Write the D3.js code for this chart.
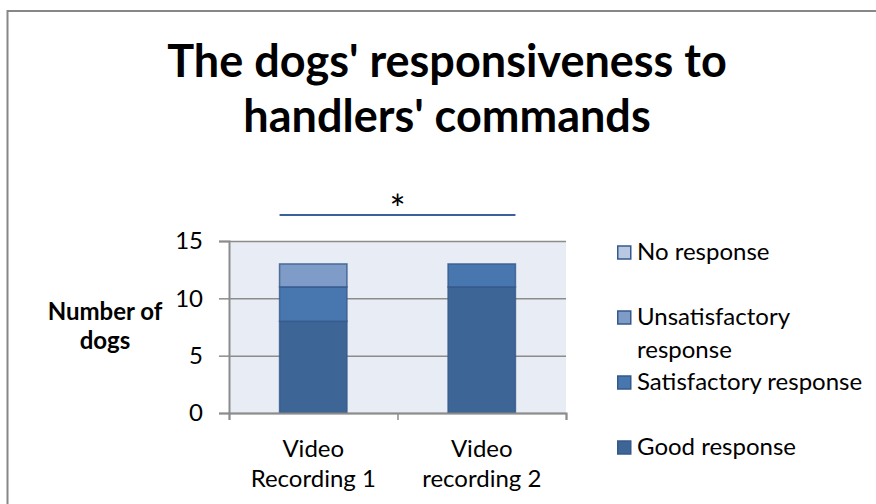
<!DOCTYPE html>
<html>
<head>
<meta charset="utf-8">
<script src="https://cdn.jsdelivr.net/npm/d3@7"></script>
<style>
  html, body { margin: 0; padding: 0; background: #fff; }
  svg { display: block; font-family: Lato, "Open Sans", sans-serif; }
</style>
</head>
<body>
<svg width="876" height="504"></svg>
<script>
'use strict'

// counts of dogs per response type, one value per recording
const categories = ['Video Recording 1', 'Video recording 2'];
const goodResponse = [8, 11];
const satisfactoryResponse = [3, 2];
const unsatisfactoryResponse = [2, 0];
const noResponse = [0, 0];
const seriesNames = ['Good response', 'Satisfactory response', 'Unsatisfactory response', 'No response'];
const seriesColors = ['#3d6595', '#4877b0', '#7f9cc8', '#b8c8e2'];
const yTicks = [0, 5, 10, 15];

const svg = d3.select('svg');

const plot = { left: 229, right: 566, top: 241, bottom: 413 };

// outer chart frame
svg.append('rect')
  .attr('x', 7.5).attr('y', 11)
  .attr('width', 900).attr('height', 520)
  .attr('fill', 'none')
  .attr('stroke', '#878787')
  .attr('stroke-width', 2);

// title
svg.append('text')
  .attr('text-anchor', 'middle')
  .attr('font-weight', 'bold')
  .attr('font-size', 45)
  .selectAll('tspan')
  .data(["The dogs' responsiveness to", "handlers' commands"])
  .join('tspan')
  .attr('x', 447)
  .attr('y', (d, i) => 77 + i * 55)
  .text(d => d);

const rows = categories.map((c, i) => ({
  category: c,
  'Good response': goodResponse[i],
  'Satisfactory response': satisfactoryResponse[i],
  'Unsatisfactory response': unsatisfactoryResponse[i],
  'No response': noResponse[i]
}));

const stacked = d3.stack().keys(seriesNames)(rows);

const x = d3.scaleBand()
  .domain(categories)
  .range([plot.left, plot.right])
  .paddingInner(0.6)
  .paddingOuter(0.3);

const y = d3.scaleLinear()
  .domain([0, 15])
  .range([plot.bottom, plot.top]);

const color = d3.scaleOrdinal().domain(seriesNames).range(seriesColors);

// plot background
svg.append('rect')
  .attr('x', plot.left).attr('y', plot.top)
  .attr('width', plot.right - plot.left)
  .attr('height', plot.bottom - plot.top)
  .attr('fill', '#e8ecf4');

// gridlines
svg.append('g')
  .attr('transform', `translate(${plot.left},0)`)
  .call(d3.axisLeft(y).tickValues(yTicks).tickSize(-(plot.right - plot.left)).tickFormat(''))
  .call(g => g.select('.domain').remove())
  .call(g => g.selectAll('line').attr('stroke', '#8c8c8c').attr('stroke-width', 1.5));

// bars
svg.append('g')
  .selectAll('g')
  .data(stacked)
  .join('g')
  .attr('fill', d => color(d.key))
  .selectAll('rect')
  .data(d => d.filter(s => s[1] > s[0]))
  .join('rect')
  .attr('x', d => x(d.data.category))
  .attr('y', d => y(d[1]))
  .attr('width', x.bandwidth())
  .attr('height', d => y(d[0]) - y(d[1]))
  .attr('stroke', '#34598a')
  .attr('stroke-opacity', 0.8)
  .attr('stroke-width', 1.5);

// y axis
svg.append('g')
  .attr('transform', `translate(${plot.left},0)`)
  .call(d3.axisLeft(y).tickValues(yTicks).tickSize(10).tickPadding(16))
  .call(g => g.select('.domain').attr('stroke', '#8c8c8c').attr('stroke-width', 2))
  .call(g => g.selectAll('line').attr('stroke', '#8c8c8c').attr('stroke-width', 1.5))
  .call(g => g.selectAll('text')
    .attr('font-family', 'Lato, sans-serif')
    .attr('font-size', 24)
    .attr('fill', '#000'));

// x axis with ticks between categories
const xEdges = d3.scaleLinear().domain([0, categories.length]).range([plot.left, plot.right]);
svg.append('g')
  .attr('transform', `translate(0,${plot.bottom})`)
  .call(d3.axisBottom(xEdges).ticks(categories.length).tickSize(7).tickFormat(''))
  .call(g => g.select('.domain').attr('stroke', '#8c8c8c').attr('stroke-width', 2))
  .call(g => g.selectAll('line').attr('stroke', '#8c8c8c').attr('stroke-width', 1.5));

// category labels, two lines each
svg.append('g')
  .selectAll('text')
  .data(categories)
  .join('text')
  .attr('text-anchor', 'middle')
  .attr('font-size', 24)
  .each(function (d) {
    const cut = d.indexOf(' ');
    const lines = [d.slice(0, cut), d.slice(cut + 1)];
    d3.select(this).selectAll('tspan')
      .data(lines)
      .join('tspan')
      .attr('x', x(d) + x.bandwidth() / 2)
      .attr('y', (l, i) => 457 + i * 30)
      .text(l => l);
  });

// y axis title
svg.append('text')
  .attr('text-anchor', 'middle')
  .attr('font-weight', 'bold')
  .attr('font-size', 24)
  .selectAll('tspan')
  .data(['Number of', 'dogs'])
  .join('tspan')
  .attr('x', 105)
  .attr('y', (d, i) => 320 + i * 29)
  .text(d => d);

// significance bracket between recordings
const sigY = 215;
svg.append('line')
  .attr('x1', x(categories[0])).attr('x2', x(categories[1]) + x.bandwidth())
  .attr('y1', sigY).attr('y2', sigY)
  .attr('stroke', '#3b619c')
  .attr('stroke-width', 2);
svg.append('text')
  .attr('x', (x(categories[0]) + x(categories[1]) + x.bandwidth()) / 2)
  .attr('y', sigY + 8)
  .attr('text-anchor', 'middle')
  .attr('font-size', 38)
  .text('*');

// legend, top entry is the last series
const legendRows = [0, 2, 4, 6];
const rowH = 32.5;
const legendItems = seriesNames.slice().reverse();
const legendLines = {
  'No response': ['No response'],
  'Unsatisfactory response': ['Unsatisfactory', 'response'],
  'Satisfactory response': ['Satisfactory response'],
  'Good response': ['Good response']
};
const legend = svg.append('g').attr('transform', 'translate(617,260)');
const item = legend.selectAll('g')
  .data(legendItems)
  .join('g')
  .attr('transform', (d, i) => `translate(0,${legendRows[i] * rowH})`);
item.append('rect')
  .attr('x', 0.75).attr('y', -14)
  .attr('width', 13).attr('height', 13)
  .attr('fill', d => color(d))
  .attr('stroke', '#34598a')
  .attr('stroke-width', 1.5);
item.append('text')
  .attr('font-size', 24)
  .selectAll('tspan')
  .data(d => legendLines[d])
  .join('tspan')
  .attr('x', 20)
  .attr('y', (l, i) => i * rowH)
  .text(l => l);
</script>
</body>
</html>
